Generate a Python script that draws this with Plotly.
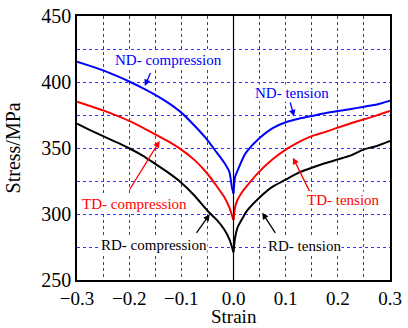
import plotly.graph_objects as go

comp_strain = [-0.3, -0.275, -0.25, -0.225, -0.2, -0.175, -0.15, -0.125, -0.1, -0.075, -0.05, -0.032, -0.018, -0.008, -0.003, 0.0]
nd_comp = [415.4, 412.2, 408.8, 404.8, 400.4, 395.6, 390.3, 384.2, 376.8, 367.0, 356.0, 346.5, 339.0, 332.0, 320.0, 315.5]
td_comp = [385.1, 381.8, 378.5, 374.7, 370.5, 365.6, 360.4, 355.0, 348.8, 341.0, 330.5, 321.0, 313.0, 305.0, 299.0, 295.5]
rd_comp = [368.4, 363.6, 359.0, 354.5, 349.8, 344.4, 338.0, 331.3, 323.7, 314.0, 302.5, 295.5, 288.5, 281.0, 275.0, 271.0]

tens_strain = [0.0, 0.003, 0.008, 0.019, 0.025, 0.05, 0.075, 0.1, 0.125, 0.15, 0.175, 0.2, 0.225, 0.25, 0.275, 0.3]
nd_tens = [315.5, 328.0, 333.0, 343.0, 347.0, 357.5, 365.0, 369.5, 372.2, 374.2, 376.3, 378.0, 379.5, 381.3, 383.0, 385.8]
td_tens = [295.5, 305.0, 311.0, 318.0, 321.0, 332.3, 341.4, 348.8, 354.5, 359.0, 362.0, 365.4, 368.7, 371.7, 374.7, 378.0]
rd_tens = [271.0, 282.0, 290.0, 298.0, 302.0, 312.5, 320.7, 326.0, 331.3, 335.0, 338.4, 341.4, 344.4, 349.0, 351.5, 355.3]

x_ticks = [-0.3, -0.2, -0.1, 0.0, 0.1, 0.2, 0.3]
y_ticks = [250, 300, 350, 400, 450]
x_title = "Strain"
y_title = "Stress/MPa"

# label, x, y, arrow-head x, arrow-head y, color
labels = [
    ("ND- compression", -0.124, 416.5, -0.170, 397.0, "#0000ff"),
    ("ND- tension", 0.112, 391.5, 0.116, 374.0, "#0000ff"),
    ("TD- compression", -0.189, 307.8, -0.1415, 355.3, "#ff0000"),
    ("TD- tension", 0.210, 310.4, 0.114, 342.7, "#ff0000"),
    ("RD- compression", -0.153, 276.3, -0.0456, 299.8, "#000000"),
    ("RD- tension", 0.137, 275.8, 0.055, 301.0, "#000000"),
]
arrow_tails = [(-0.158, 408.0), (0.108, 385.6), (-0.2009, 317.4), (0.147, 316.2), (-0.073, 284.6), (0.082, 284.6)]

FONT = "Liberation Serif"

fig = go.Figure()
series = [
    (comp_strain, nd_comp, "#0000ff"), (tens_strain, nd_tens, "#0000ff"),
    (comp_strain, td_comp, "#ff0000"), (tens_strain, td_tens, "#ff0000"),
    (comp_strain, rd_comp, "#000000"), (tens_strain, rd_tens, "#000000"),
]
for xs, ys, c in series:
    fig.add_trace(go.Scatter(x=xs, y=ys, mode="lines", line=dict(color=c, width=2, shape="spline", smoothing=0.6),
                             showlegend=False))

# vertical zero line
fig.add_shape(type="line", x0=0, x1=0, y0=250, y1=450, xref="x", yref="y",
              line=dict(color="black", width=1.2))

for (txt, tx, ty, hx, hy, c), (ax_, ay_) in zip(labels, arrow_tails):
    fig.add_annotation(x=hx, y=hy, ax=ax_, ay=ay_, xref="x", yref="y", axref="x", ayref="y",
                       text="", showarrow=True, arrowhead=2, arrowsize=1, arrowwidth=1.3, arrowcolor=c)
    fig.add_annotation(x=tx, y=ty, xref="x", yref="y", text=txt, showarrow=False,
                       font=dict(family=FONT, size=15, color=c), bgcolor="white", borderpad=0)

# axis titles
fig.add_annotation(x=0.5, y=-0.1818, xref="paper", yref="paper", text=x_title, showarrow=False,
                   xanchor="center", yanchor="bottom", borderpad=0,
                   font=dict(family=FONT, size=19, color="black"))
fig.add_annotation(x=-0.203, y=0.5, xref="paper", yref="paper", text=y_title, showarrow=False,
                   textangle=-90, xanchor="center", yanchor="middle", borderpad=0,
                   font=dict(family=FONT, size=20, color="black"))

GRID = "#3333ff"
fig.update_xaxes(range=[-0.3, 0.3], tickvals=x_ticks, tickformat=".1f", showgrid=True,
                 gridcolor=GRID, griddash="dot", gridwidth=0.8,
                 minor=dict(dtick=0.05, showgrid=True, gridcolor=GRID, griddash="dot", gridwidth=0.8),
                 zeroline=False, showline=True, linecolor="black", linewidth=1.5, mirror=True,
                 ticks="", tickfont=dict(family=FONT, size=19, color="black"), automargin=False)
fig.update_yaxes(range=[250, 450], tickvals=y_ticks, showgrid=True,
                 gridcolor=GRID, griddash="dot", gridwidth=0.8,
                 minor=dict(dtick=25, showgrid=True, gridcolor=GRID, griddash="dot", gridwidth=0.8),
                 zeroline=False, showline=True, linecolor="black", linewidth=1.5, mirror=True,
                 ticks="", tickfont=dict(family=FONT, size=20, color="black"), automargin=False)

fig.update_layout(width=408, height=328, margin=dict(l=77, r=18, t=16, b=48),
                  plot_bgcolor="white", paper_bgcolor="white",
                  font=dict(family=FONT))

fig.write_html("out.html")
